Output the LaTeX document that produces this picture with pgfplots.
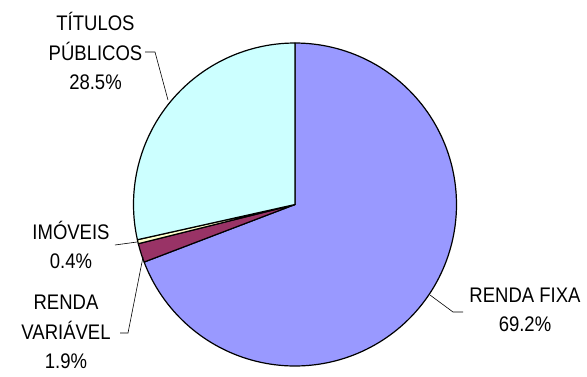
\documentclass[border=0pt]{standalone}
\usepackage{pgfplots}
\pgfplotsset{compat=1.18}
\usepackage{pgfplotstable}
\usepackage{fontspec}
\setmainfont{Liberation Sans}
\definecolor{cRF}{HTML}{9999FF}
\definecolor{cRV}{HTML}{993366}
\definecolor{cIM}{HTML}{FFFFCC}
\definecolor{cTP}{HTML}{CCFFFF}
\pgfplotstableread{
name value
RF 69.2
RV 1.9
IM 0.4
TP 28.5
}\piedata
\begin{document}
\begin{tikzpicture}[x=1pt,y=-1pt]
\path[use as bounding box] (0,0) rectangle (587,376);
\pgfplotstablegetelem{0}{value}\of\piedata \pgfmathsetmacro{\vA}{\pgfplotsretval}
\pgfplotstablegetelem{1}{value}\of\piedata \pgfmathsetmacro{\vB}{\pgfplotsretval}
\pgfplotstablegetelem{2}{value}\of\piedata \pgfmathsetmacro{\vC}{\pgfplotsretval}
\pgfplotstablegetelem{3}{value}\of\piedata \pgfmathsetmacro{\vD}{\pgfplotsretval}
\pgfmathsetmacro{\aA}{90}
\pgfmathsetmacro{\aB}{90-3.6*\vA}
\pgfmathsetmacro{\aC}{\aB-3.6*\vB}
\pgfmathsetmacro{\aD}{\aC-3.6*\vC}
\pgfmathsetmacro{\aE}{\aD-3.6*\vD}
\begin{axis}[anchor=center, at={(295pt,-204.5pt)}, width=323pt, height=323pt, scale only axis,
  xmin=-1,xmax=1,ymin=-1,ymax=1, hide axis, clip=false]
\addplot[draw=black, line width=1.2pt, line join=round, fill=cRF, domain=\aB:\aA, samples=150, variable=\t] ({cos(t)},{sin(t)}) -- (axis cs:0,0) -- cycle;
\addplot[draw=black, line width=1.2pt, line join=round, fill=cRV, domain=\aC:\aB, samples=10, variable=\t] ({cos(t)},{sin(t)}) -- (axis cs:0,0) -- cycle;
\addplot[draw=black, line width=1.2pt, line join=round, fill=cIM, domain=\aD:\aC, samples=5, variable=\t] ({cos(t)},{sin(t)}) -- (axis cs:0,0) -- cycle;
\addplot[draw=black, line width=1.2pt, line join=round, fill=cTP, domain=\aE:\aD, samples=80, variable=\t] ({cos(t)},{sin(t)}) -- (axis cs:0,0) -- cycle;
\end{axis}
% leader lines
\draw[line width=0.6pt] (145,52) -- (155,52) -- (168,100);
\draw[line width=0.6pt] (115,245) -- (137,242);
\draw[line width=0.6pt] (120,333) -- (128,333) -- (143,257);
\draw[line width=0.6pt] (430,295) -- (453,312) -- (463,312);
% labels
\tikzset{lab/.style={font=\fontsize{18.5}{26}\selectfont, align=center, inner sep=0pt, yscale=1.14, transform shape}}
\node[lab] at (95.5,51) {TÍTULOS\\PÚBLICOS\\28.5\%};
\node[lab] at (71,245) {IMÓVEIS\\0.4\%};
\node[lab] at (66,332) {RENDA\\VARIÁVEL\\1.9\%};
\node[lab] at (525,310) {RENDA FIXA\\69.2\%};
\end{tikzpicture}
\end{document}
